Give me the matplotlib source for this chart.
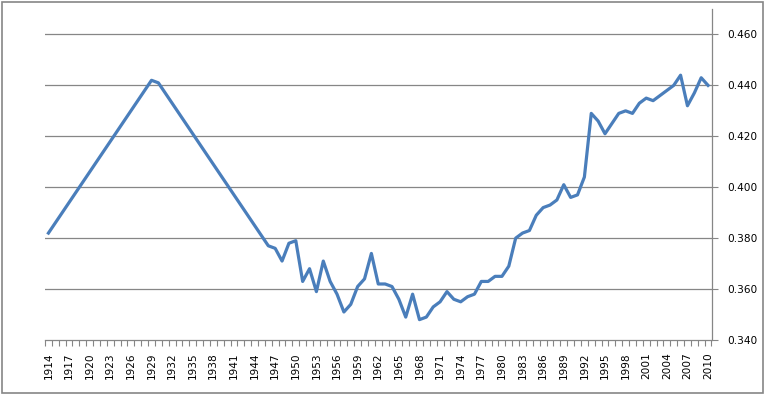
import numpy as np
import matplotlib
matplotlib.use("Agg")
import matplotlib.pyplot as plt
from matplotlib.patches import Rectangle

years = list(range(1914, 2011))
values = [
    0.382, 0.386, 0.390, 0.394, 0.398, 0.402, 0.406, 0.410, 0.414, 0.418,  # 1914-1923
    0.422, 0.426, 0.430, 0.434, 0.438, 0.442, 0.441, 0.437, 0.433, 0.429,  # 1924-1933
    0.425, 0.421, 0.417, 0.413, 0.409, 0.405, 0.401, 0.397, 0.393, 0.389,  # 1934-1943
    0.385, 0.381, 0.377, 0.376, 0.371, 0.378, 0.379, 0.363, 0.368, 0.359,  # 1944-1953
    0.371, 0.363, 0.358, 0.351, 0.354, 0.361, 0.364, 0.374, 0.362, 0.362,  # 1954-1963
    0.361, 0.356, 0.349, 0.358, 0.348, 0.349, 0.353, 0.355, 0.359, 0.356,  # 1964-1973
    0.355, 0.357, 0.358, 0.363, 0.363, 0.365, 0.365, 0.369, 0.380, 0.382,  # 1974-1983
    0.383, 0.389, 0.392, 0.393, 0.395, 0.401, 0.396, 0.397, 0.404, 0.429,  # 1984-1993
    0.426, 0.421, 0.425, 0.429, 0.430, 0.429, 0.433, 0.435, 0.434, 0.436,  # 1994-2003
    0.438, 0.440, 0.444, 0.432, 0.437, 0.443, 0.440,                        # 2004-2010
]
y_ticks = [0.340, 0.360, 0.380, 0.400, 0.420, 0.440, 0.460]
label_years = years[::3]

grey = "#868686"
plt.rcParams['font.family'] = ['DejaVu Sans']

fig = plt.figure(figsize=(7.65, 3.94), dpi=100)
ax = fig.add_axes([45 / 765, 1 - 340 / 394, (711.5 - 45) / 765, (340 - 9) / 394])

x = np.arange(len(years))
ax.plot(x, values, color="#4A7EBB", linewidth=2.3, solid_joinstyle="round")

ax.set_xlim(-0.5, len(years) - 0.5)
ax.set_ylim(0.340, 0.470)

# value axis on the right
ax.yaxis.tick_right()
ax.set_yticks(y_ticks)
ax.set_yticklabels([f"{v:.3f}" for v in y_ticks], fontsize=7.6, color="black")
ax.tick_params(axis="y", length=4, width=0.8, color=grey, pad=7)
for v in y_ticks[1:]:
    ax.axhline(v, color=grey, linewidth=0.9, zorder=0)

# category axis: ticks between categories, labels every third year
ax.set_xticks(np.arange(-0.5, len(years), 1.0), minor=True)
ax.set_xticks([years.index(y) for y in label_years])
ax.set_xticklabels([str(y) for y in label_years], rotation=90, fontsize=7.6,
                   va="top", ha="center")
ax.tick_params(axis="x", which="major", length=0, pad=9)
ax.tick_params(axis="x", which="minor", length=4, width=0.8, color=grey)

for side in ["top", "left"]:
    ax.spines[side].set_visible(False)
for side in ["right", "bottom"]:
    ax.spines[side].set_color(grey)
    ax.spines[side].set_linewidth(0.9)

# chart border
fig.patches.append(Rectangle((1.5 / 765, 1.5 / 394), 761 / 765, 390.5 / 394,
                             transform=fig.transFigure, fill=False,
                             edgecolor=grey, linewidth=1.2))

fig.savefig("out.png", dpi=100)
